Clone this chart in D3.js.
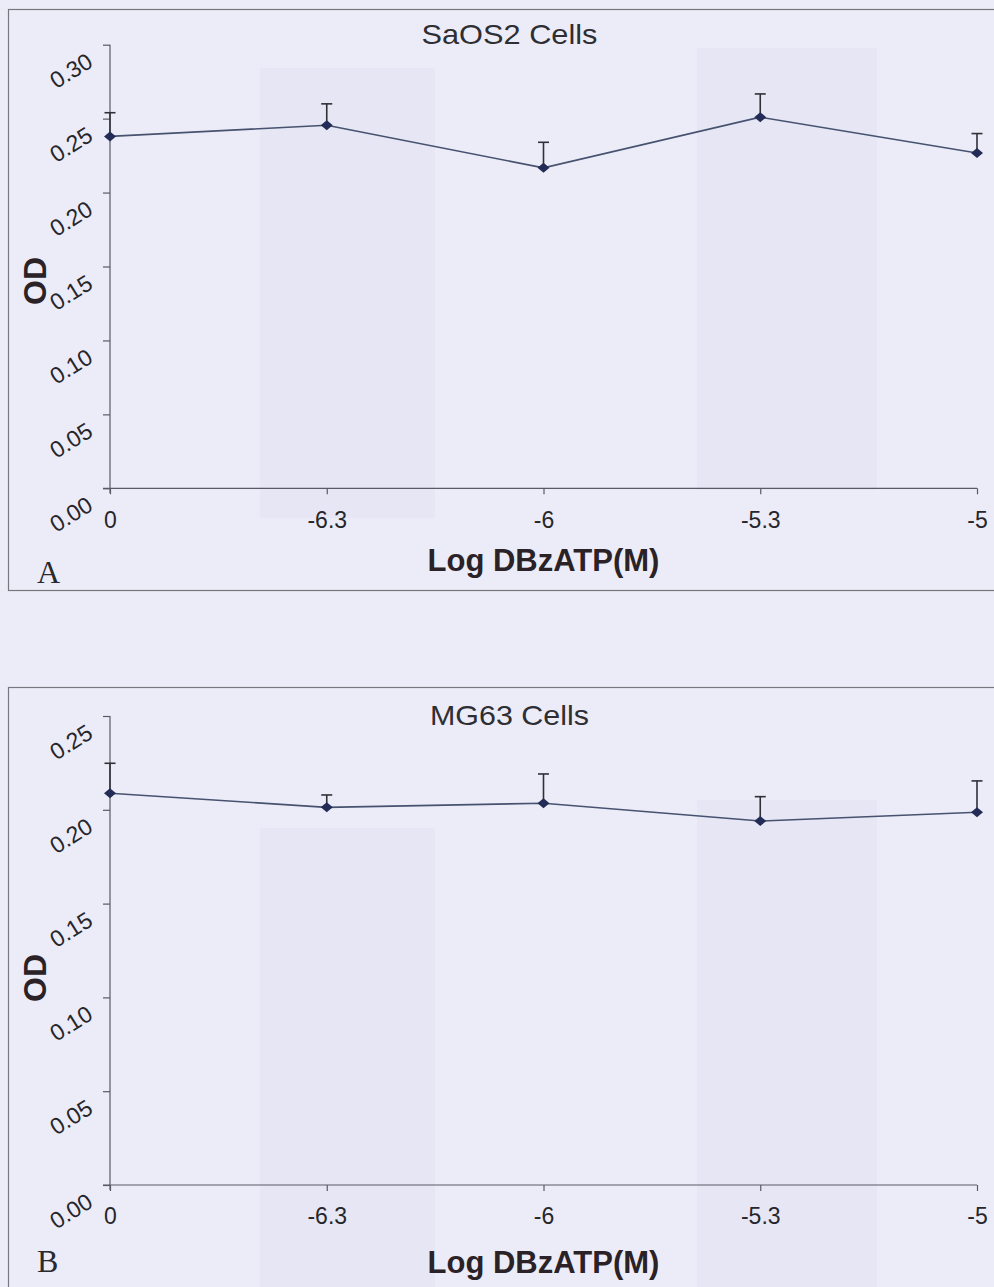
<!DOCTYPE html>
<html>
<head>
<meta charset="utf-8">
<script src="https://cdn.jsdelivr.net/npm/d3@7"></script>
<style>
  html, body { margin: 0; padding: 0; background: #ececf8; }
  svg { display: block; }
</style>
</head>
<body>
<svg id="fig" width="994" height="1287"></svg>
<script>
// Dose levels (log molar DBzATP); "0" is the untreated control
const doses = ["0", "-6.3", "-6", "-5.3", "-5"];

// SaOS2 optical density, mean and SEM
const saos2OD = [0.238, 0.2455, 0.2167, 0.251, 0.2268];
const saos2SE = [0.016, 0.0145, 0.0173, 0.0157, 0.0131];
const saos2Ticks = [0, 0.05, 0.10, 0.15, 0.20, 0.25, 0.30];

// MG63 optical density, mean and SEM
const mg63OD = [0.2088, 0.2013, 0.2035, 0.194, 0.1987];
const mg63SE = [0.016, 0.0066, 0.0156, 0.013, 0.0167];
const mg63Ticks = [0, 0.05, 0.10, 0.15, 0.20, 0.25];

const svg = d3.select("#fig");
svg.append("rect").attr("width", 994).attr("height", 1287).attr("fill", "#ececf8");

const axisColor = "#5a5a66";
const inkColor = "#26262b";

function drawPanel(p) {
  const g = svg.append("g");

  // faint background bands
  p.bands.forEach(b => {
    g.append("rect")
      .attr("x", b[0]).attr("y", b[1])
      .attr("width", b[2] - b[0]).attr("height", b[3] - b[1])
      .attr("fill", "#e6e6f4");
  });

  // panel frame
  g.append("rect")
    .attr("x", 8.5).attr("y", p.frameTop + 0.5)
    .attr("width", 1000).attr("height", p.frameH)
    .attr("fill", "none").attr("stroke", "#77777f").attr("stroke-width", 1.2);

  const x = d3.scalePoint().domain(doses).range([110, 977]);
  const y = d3.scaleLinear().domain([0, d3.max(p.ticks)]).range([p.y0, p.yTop]);

  // y axis
  const yAxis = g.append("g").attr("transform", "translate(110,0)")
    .call(d3.axisLeft(y).tickValues(p.ticks).tickSize(7).tickFormat(""));
  yAxis.selectAll("path").attr("stroke", axisColor).attr("stroke-width", 1.2)
    .attr("d", `M0,${y(d3.max(p.ticks))}V${p.y0 + 5}`);
  yAxis.selectAll("line").attr("stroke", axisColor).attr("stroke-width", 1.2);

  // slanted y tick labels
  g.append("g").selectAll("text").data(p.ticks).join("text")
    .attr("transform", d => `translate(71,${y(d) + 26}) rotate(-32)`)
    .attr("text-anchor", "middle")
    .attr("dominant-baseline", "central")
    .attr("font-family", "Liberation Sans, Arial, sans-serif")
    .attr("font-size", 23)
    .attr("fill", inkColor)
    .text(d => d3.format(".2f")(d));

  // x axis
  const xAxis = g.append("g").attr("transform", `translate(0,${p.y0})`)
    .call(d3.axisBottom(x).tickSize(6).tickPadding(17));
  xAxis.selectAll("path").attr("stroke", axisColor).attr("stroke-width", 1.2)
    .attr("d", "M103,0H977");
  xAxis.selectAll("line").attr("stroke", axisColor).attr("stroke-width", 1.2);
  xAxis.selectAll("text")
    .attr("font-family", "Liberation Sans, Arial, sans-serif")
    .attr("font-size", 23)
    .attr("fill", inkColor);

  // title
  g.append("text")
    .attr("x", 509.5).attr("y", p.titleY)
    .attr("text-anchor", "middle")
    .attr("font-family", "Liberation Sans, Arial, sans-serif")
    .attr("font-size", 28)
    .attr("textLength", p.titleW).attr("lengthAdjust", "spacingAndGlyphs")
    .attr("fill", "#2e2e33")
    .text(p.title);

  // axis titles
  g.append("text")
    .attr("x", 543.5).attr("y", p.xTitleY)
    .attr("text-anchor", "middle")
    .attr("font-family", "Liberation Sans, Arial, sans-serif")
    .attr("font-weight", "bold")
    .attr("font-size", 31)
    .attr("fill", "#2a2226")
    .text("Log DBzATP(M)");

  g.append("text")
    .attr("transform", `translate(46,${p.odY}) rotate(-90)`)
    .attr("text-anchor", "middle")
    .attr("font-family", "Liberation Sans, Arial, sans-serif")
    .attr("font-weight", "bold")
    .attr("font-size", 32)
    .attr("fill", "#2a2226")
    .text("OD");

  // panel letter
  g.append("text")
    .attr("x", 37).attr("y", p.letterY)
    .attr("font-family", "Liberation Serif, Times New Roman, serif")
    .attr("font-size", 32)
    .attr("fill", "#2a2a2e")
    .text(p.letter);

  const pts = doses.map((d, i) => ({ d, v: p.values[i], e: p.errors[i] }));

  // upper error bars
  const eb = g.append("g").attr("stroke", "#303036").attr("stroke-width", 1.6);
  eb.selectAll("line.stem").data(pts).join("line").attr("class", "stem")
    .attr("x1", d => x(d.d)).attr("x2", d => x(d.d))
    .attr("y1", d => y(d.v)).attr("y2", d => y(d.v + d.e));
  eb.selectAll("line.cap").data(pts).join("line").attr("class", "cap")
    .attr("x1", d => x(d.d) - 5.5).attr("x2", d => x(d.d) + 5.5)
    .attr("y1", d => y(d.v + d.e)).attr("y2", d => y(d.v + d.e));

  // mean line
  g.append("path").datum(pts)
    .attr("fill", "none").attr("stroke", "#46526f").attr("stroke-width", 1.6)
    .attr("d", d3.line().x(d => x(d.d)).y(d => y(d.v)));

  // diamond markers
  g.selectAll("path.mk").data(pts).join("path").attr("class", "mk")
    .attr("transform", d => `translate(${x(d.d)},${y(d.v)})`)
    .attr("d", "M0,-5L6,0L0,5L-6,0Z")
    .attr("fill", "#232c56");
}

drawPanel({
  title: "SaOS2 Cells", titleW: 176, titleY: 44,
  letter: "A", letterY: 583,
  values: saos2OD, errors: saos2SE, ticks: saos2Ticks,
  y0: 488.3, yTop: 44.7,
  frameTop: 9, frameH: 581,
  xTitleY: 571, odY: 281,
  bands: [[260, 68, 435, 518], [697, 48, 877, 490]]
});

drawPanel({
  title: "MG63 Cells", titleW: 159, titleY: 725,
  letter: "B", letterY: 1272,
  values: mg63OD, errors: mg63SE, ticks: mg63Ticks,
  y0: 1185, yTop: 716,
  frameTop: 687, frameH: 700,
  xTitleY: 1273, odY: 978,
  bands: [[260, 828, 435, 1287], [697, 800, 877, 1287]]
});
</script>
</body>
</html>
